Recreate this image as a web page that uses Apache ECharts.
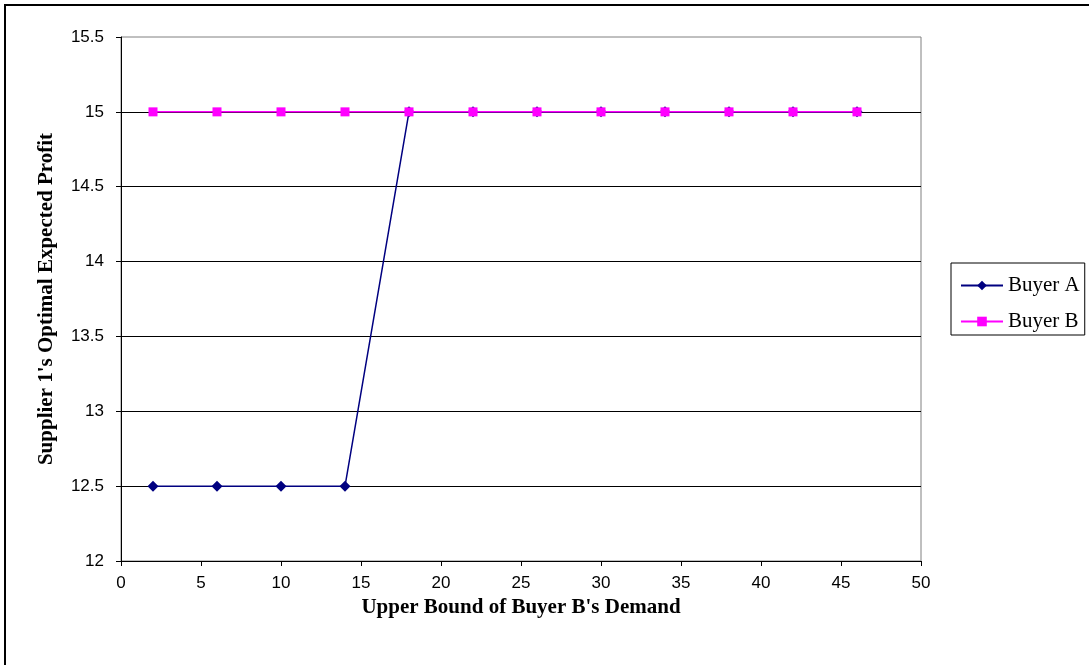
<!DOCTYPE html>
<html><head><meta charset="utf-8">
<script src="https://cdn.jsdelivr.net/npm/echarts@6/dist/echarts.min.js"></script>
<style>html,body{margin:0;padding:0;background:#fff}#c{width:1089px;height:665px}</style>
</head><body><div id="c"></div>
<script>
const xValues = [2, 6, 10, 14, 18, 22, 26, 30, 34, 38, 42, 46];
const buyerA = [12.5, 12.5, 12.5, 12.5, 15, 15, 15, 15, 15, 15, 15, 15];
const buyerB = [15, 15, 15, 15, 15, 15, 15, 15, 15, 15, 15, 15];
const seriesNames = ['Buyer A', 'Buyer B'];
const xTitle = "Upper Bound of Buyer B's Demand";
const yTitle = "Supplier 1's Optimal Expected Profit";

const chart = echarts.init(document.getElementById('c'), null, {renderer: 'canvas'});
const pair = (xs, ys) => xs.map((x, i) => [x, ys[i]]);
chart.setOption({
  animation: false,
  backgroundColor: '#fff',
  graphic: [{type: 'rect', shape: {x: 5, y: 5, width: 1200, height: 800}, style: {fill: 'none', stroke: '#000', lineWidth: 2}, z: 100}],
  grid: {left: 121, right: 168, top: 37, bottom: 104, show: true, borderColor: '#808080', borderWidth: 1, backgroundColor: '#fff'},
  legend: {
    orient: 'vertical', left: 951, top: 263,
    padding: [12, 5, 3, 9], itemGap: 15,
    borderColor: '#000', borderWidth: 1,
    itemWidth: 42, itemHeight: 12,
    textStyle: {fontFamily: 'Liberation Serif', fontSize: 21, color: '#000'},
    data: seriesNames
  },
  xAxis: {
    type: 'value', min: 0, max: 50, interval: 5,
    name: xTitle, nameLocation: 'middle', nameGap: 35,
    nameTextStyle: {fontFamily: 'Liberation Serif', fontWeight: 'bold', fontSize: 21, color: '#000'},
    axisLine: {show: true, lineStyle: {color: '#000', width: 1}},
    axisTick: {show: true, length: 5, lineStyle: {color: '#000'}},
    axisLabel: {fontFamily: 'Liberation Sans', fontSize: 17, color: '#000', margin: 14},
    splitLine: {show: false}
  },
  yAxis: {
    type: 'value', min: 12, max: 15.5, interval: 0.5,
    name: yTitle, nameLocation: 'middle', nameGap: 64, nameRotate: 90,
    nameTextStyle: {fontFamily: 'Liberation Serif', fontWeight: 'bold', fontSize: 21, color: '#000'},
    axisLine: {show: true, lineStyle: {color: '#000', width: 1}},
    axisTick: {show: true, length: 5, lineStyle: {color: '#000'}},
    axisLabel: {fontFamily: 'Liberation Sans', fontSize: 17, color: '#000', margin: 17},
    splitLine: {show: true, showMaxLine: false, showMinLine: false, lineStyle: {color: '#000', width: 1}}
  },
  series: [
    {name: seriesNames[0], type: 'line', data: pair(xValues, buyerA), symbol: 'diamond', symbolSize: 11,
     lineStyle: {color: '#000080', width: 1.5}, itemStyle: {color: '#000080'}, z: 3},
    {name: seriesNames[1], type: 'line', data: pair(xValues, buyerB), symbol: 'rect', symbolSize: 9,
     lineStyle: {color: '#FF00FF', width: 1.5}, itemStyle: {color: '#FF00FF'}, z: 4}
  ]
});
</script></body></html>
